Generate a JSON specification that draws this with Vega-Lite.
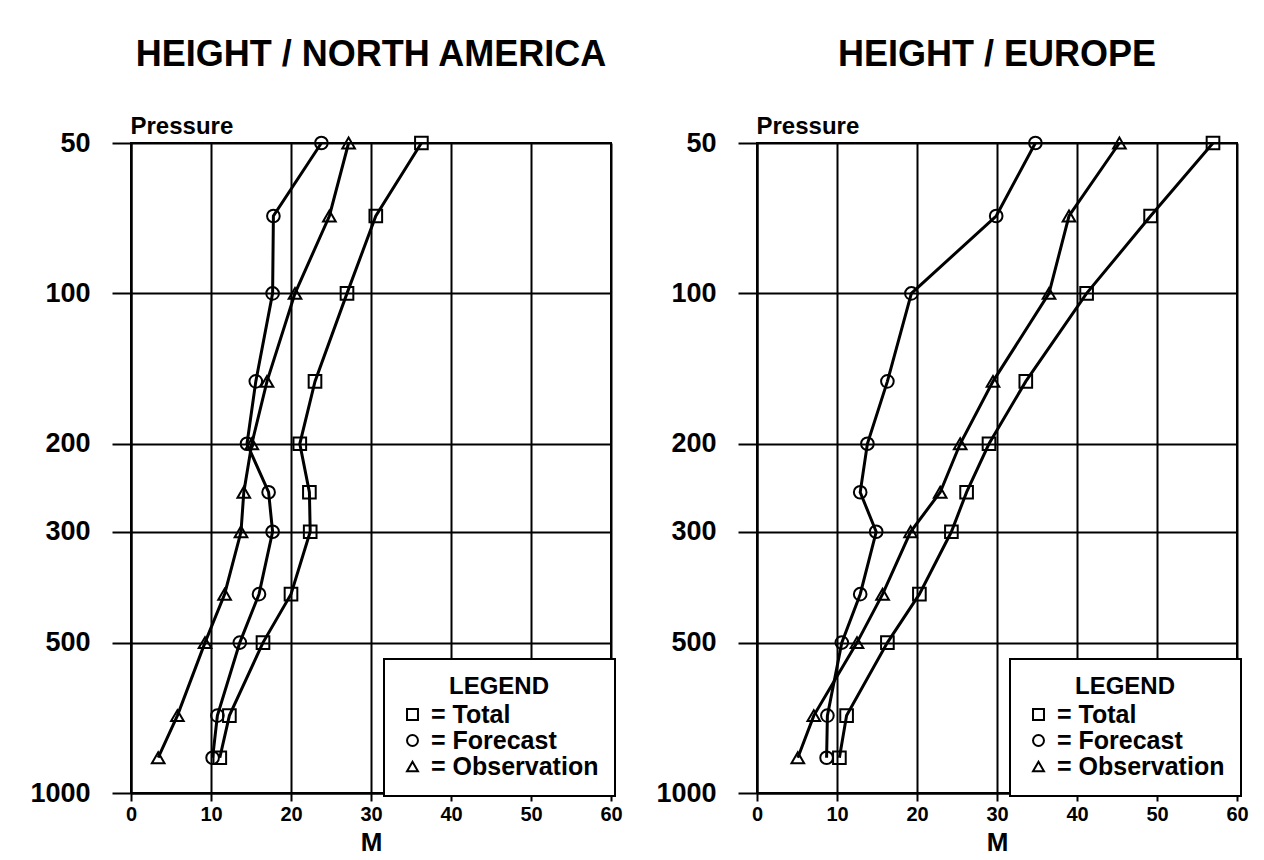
{
  "$schema": "https://vega.github.io/schema/vega-lite/v6.json",
  "background": "white",
  "padding": {"left": 28, "top": 36, "right": 5, "bottom": 5},
  "datasets": {
    "heights": [
      {"region": "North America", "series": "Total", "pressure": 50, "value": 36.3},
      {"region": "North America", "series": "Total", "pressure": 70, "value": 30.6},
      {"region": "North America", "series": "Total", "pressure": 100, "value": 27.0},
      {"region": "North America", "series": "Total", "pressure": 150, "value": 23.0},
      {"region": "North America", "series": "Total", "pressure": 200, "value": 21.1},
      {"region": "North America", "series": "Total", "pressure": 250, "value": 22.3},
      {"region": "North America", "series": "Total", "pressure": 300, "value": 22.4},
      {"region": "North America", "series": "Total", "pressure": 400, "value": 20.0},
      {"region": "North America", "series": "Total", "pressure": 500, "value": 16.5},
      {"region": "North America", "series": "Total", "pressure": 700, "value": 12.3},
      {"region": "North America", "series": "Total", "pressure": 850, "value": 11.1},
      {"region": "North America", "series": "Forecast", "pressure": 50, "value": 23.8},
      {"region": "North America", "series": "Forecast", "pressure": 70, "value": 17.8},
      {"region": "North America", "series": "Forecast", "pressure": 100, "value": 17.7},
      {"region": "North America", "series": "Forecast", "pressure": 150, "value": 15.6},
      {"region": "North America", "series": "Forecast", "pressure": 200, "value": 14.5},
      {"region": "North America", "series": "Forecast", "pressure": 250, "value": 17.2},
      {"region": "North America", "series": "Forecast", "pressure": 300, "value": 17.7},
      {"region": "North America", "series": "Forecast", "pressure": 400, "value": 16.0},
      {"region": "North America", "series": "Forecast", "pressure": 500, "value": 13.6},
      {"region": "North America", "series": "Forecast", "pressure": 700, "value": 10.8},
      {"region": "North America", "series": "Forecast", "pressure": 850, "value": 10.2},
      {"region": "North America", "series": "Observation", "pressure": 50, "value": 27.2},
      {"region": "North America", "series": "Observation", "pressure": 70, "value": 24.8},
      {"region": "North America", "series": "Observation", "pressure": 100, "value": 20.5},
      {"region": "North America", "series": "Observation", "pressure": 150, "value": 17.0},
      {"region": "North America", "series": "Observation", "pressure": 200, "value": 15.1},
      {"region": "North America", "series": "Observation", "pressure": 250, "value": 14.1},
      {"region": "North America", "series": "Observation", "pressure": 300, "value": 13.75},
      {"region": "North America", "series": "Observation", "pressure": 400, "value": 11.7},
      {"region": "North America", "series": "Observation", "pressure": 500, "value": 9.25},
      {"region": "North America", "series": "Observation", "pressure": 700, "value": 5.8},
      {"region": "North America", "series": "Observation", "pressure": 850, "value": 3.4},
      {"region": "Europe", "series": "Total", "pressure": 50, "value": 57.0},
      {"region": "Europe", "series": "Total", "pressure": 70, "value": 49.2},
      {"region": "Europe", "series": "Total", "pressure": 100, "value": 41.2},
      {"region": "Europe", "series": "Total", "pressure": 150, "value": 33.6},
      {"region": "Europe", "series": "Total", "pressure": 200, "value": 29.0},
      {"region": "Europe", "series": "Total", "pressure": 250, "value": 26.2},
      {"region": "Europe", "series": "Total", "pressure": 300, "value": 24.3},
      {"region": "Europe", "series": "Total", "pressure": 400, "value": 20.3},
      {"region": "Europe", "series": "Total", "pressure": 500, "value": 16.3},
      {"region": "Europe", "series": "Total", "pressure": 700, "value": 11.2},
      {"region": "Europe", "series": "Total", "pressure": 850, "value": 10.3},
      {"region": "Europe", "series": "Forecast", "pressure": 50, "value": 34.8},
      {"region": "Europe", "series": "Forecast", "pressure": 70, "value": 29.9},
      {"region": "Europe", "series": "Forecast", "pressure": 100, "value": 19.3},
      {"region": "Europe", "series": "Forecast", "pressure": 150, "value": 16.3},
      {"region": "Europe", "series": "Forecast", "pressure": 200, "value": 13.8},
      {"region": "Europe", "series": "Forecast", "pressure": 250, "value": 12.9},
      {"region": "Europe", "series": "Forecast", "pressure": 300, "value": 14.9},
      {"region": "Europe", "series": "Forecast", "pressure": 400, "value": 12.9},
      {"region": "Europe", "series": "Forecast", "pressure": 500, "value": 10.6},
      {"region": "Europe", "series": "Forecast", "pressure": 700, "value": 8.8},
      {"region": "Europe", "series": "Forecast", "pressure": 850, "value": 8.7},
      {"region": "Europe", "series": "Observation", "pressure": 50, "value": 45.3},
      {"region": "Europe", "series": "Observation", "pressure": 70, "value": 39.0},
      {"region": "Europe", "series": "Observation", "pressure": 100, "value": 36.5},
      {"region": "Europe", "series": "Observation", "pressure": 150, "value": 29.5},
      {"region": "Europe", "series": "Observation", "pressure": 200, "value": 25.4},
      {"region": "Europe", "series": "Observation", "pressure": 250, "value": 22.9},
      {"region": "Europe", "series": "Observation", "pressure": 300, "value": 19.2},
      {"region": "Europe", "series": "Observation", "pressure": 400, "value": 15.7},
      {"region": "Europe", "series": "Observation", "pressure": 500, "value": 12.5},
      {"region": "Europe", "series": "Observation", "pressure": 700, "value": 7.1},
      {"region": "Europe", "series": "Observation", "pressure": 850, "value": 5.1}
    ]
  },
  "data": {"name": "heights"},
  "spacing": 30,
  "resolve": {"scale": {"shape": "independent"}, "legend": {"shape": "independent"}},
  "hconcat": [
    {
      "width": 480,
      "height": 650,
      "title": {"text": "HEIGHT / NORTH AMERICA"},
      "transform": [{"filter": "datum.region === 'North America'"}],
      "encoding": {
        "x": {"field": "value", "type": "quantitative", "scale": {"domain": [0, 60], "nice": false, "zero": false}, "axis": {"values": [0, 10, 20, 30, 40, 50, 60], "title": "M"}},
        "y": {"field": "pressure", "type": "quantitative", "scale": {"type": "log", "domain": [50, 1000], "reverse": true, "nice": false}, "axis": {"values": [50, 100, 200, 300, 500, 1000], "format": "d", "title": "Pressure"}}
      },
      "layer": [
        {"mark": {"type": "line", "color": "black", "strokeWidth": 3}, "encoding": {"detail": {"field": "series"}, "order": {"field": "pressure", "type": "quantitative"}}},
        {"mark": {"type": "point", "filled": false, "color": "black", "strokeWidth": 2, "size": 160, "opacity": 1},
         "encoding": {"shape": {"field": "series", "type": "nominal", "scale": {"domain": ["Total", "Forecast", "Observation"], "range": ["square", "circle", "triangle-up"]},
           "legend": {"orient": "none", "legendX": 253, "legendY": 516, "title": "LEGEND", "labelExpr": "'= ' + datum.label"}}}}
      ]
    },
    {
      "width": 480,
      "height": 650,
      "title": {"text": "HEIGHT / EUROPE"},
      "transform": [{"filter": "datum.region === 'Europe'"}],
      "encoding": {
        "x": {"field": "value", "type": "quantitative", "scale": {"domain": [0, 60], "nice": false, "zero": false}, "axis": {"values": [0, 10, 20, 30, 40, 50, 60], "title": "M"}},
        "y": {"field": "pressure", "type": "quantitative", "scale": {"type": "log", "domain": [50, 1000], "reverse": true, "nice": false}, "axis": {"values": [50, 100, 200, 300, 500, 1000], "format": "d", "title": "Pressure"}}
      },
      "layer": [
        {"mark": {"type": "line", "color": "black", "strokeWidth": 3}, "encoding": {"detail": {"field": "series"}, "order": {"field": "pressure", "type": "quantitative"}}},
        {"mark": {"type": "point", "filled": false, "color": "black", "strokeWidth": 2, "size": 160, "opacity": 1},
         "encoding": {"shape": {"field": "series", "type": "nominal", "scale": {"domain": ["Total", "Forecast", "Observation"], "range": ["square", "circle", "triangle-up"]},
           "legend": {"orient": "none", "legendX": 253, "legendY": 516, "title": "LEGEND", "labelExpr": "'= ' + datum.label"}}}}
      ]
    }
  ],
  "config": {
    "font": "Liberation Sans",
    "view": {"stroke": "black", "strokeWidth": 2},
    "title": {"font": "Liberation Sans", "fontSize": 36, "fontWeight": "bold", "color": "black", "anchor": "middle", "frame": "group", "offset": 40},
    "axis": {"domainColor": "black", "domainWidth": 2, "gridColor": "black", "gridWidth": 2, "gridOpacity": 1, "tickColor": "black", "tickWidth": 2, "labelFont": "Liberation Sans", "labelFontWeight": "bold", "labelColor": "black", "titleFont": "Liberation Sans", "titleFontWeight": "bold", "titleColor": "black", "labelFlush": false},
    "axisX": {"tickSize": 8, "labelFontSize": 20, "labelPadding": 3, "titleFontSize": 26, "titlePadding": 5},
    "axisY": {"tickSize": 19, "labelFontSize": 27, "labelPadding": 22, "titleFontSize": 24, "titleAngle": 0, "titleAlign": "left", "titleBaseline": "alphabetic", "titleX": -1, "titleY": -10},
    "legend": {"fillColor": "white", "strokeColor": "black", "strokeWidth": 2, "padding": 16, "titleFont": "Liberation Sans", "titleFontSize": 24, "titleFontWeight": "bold", "titleColor": "black", "titleAnchor": "middle", "titlePadding": 3, "labelFont": "Liberation Sans", "labelFontSize": 25, "labelFontWeight": "bold", "labelColor": "black", "labelLimit": 300, "symbolStrokeColor": "black", "symbolStrokeWidth": 2, "symbolFillColor": "transparent", "symbolSize": 120, "symbolType": "square", "rowPadding": 0, "labelOffset": 6}
  }
}
